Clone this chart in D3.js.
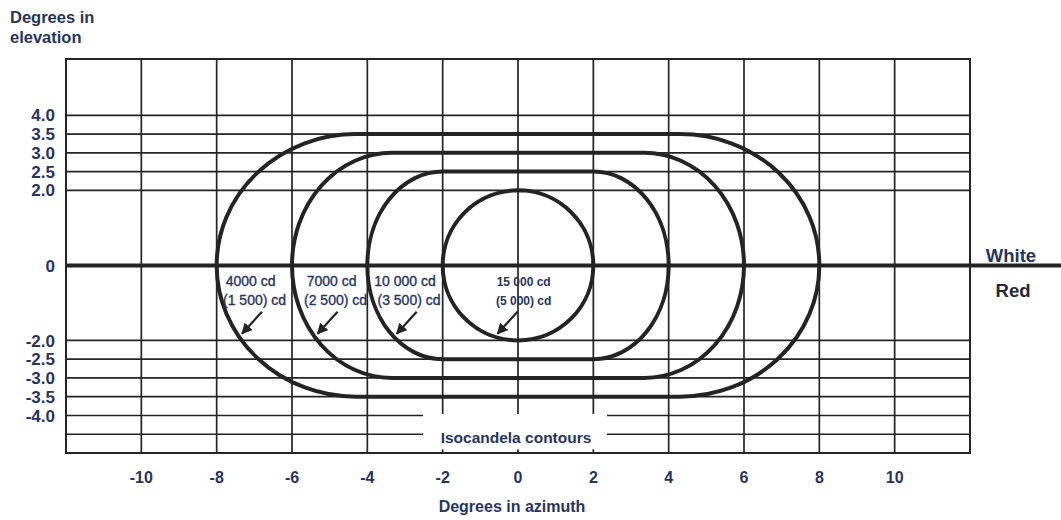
<!DOCTYPE html>
<html>
<head>
<meta charset="utf-8">
<script src="https://cdn.jsdelivr.net/npm/d3@7/dist/d3.min.js"></script>
<style>
  html, body { margin: 0; padding: 0; background: #fff; }
  svg { display: block; }
  text { font-family: "Liberation Sans", Arial, sans-serif; }
</style>
</head>
<body>
<svg id="chart" width="1061" height="520"></svg>
<script>
// Azimuth grid / tick values (degrees)
const azimuthTicks = [-10, -8, -6, -4, -2, 0, 2, 4, 6, 8, 10];
// Elevation tick labels (degrees)
const elevationTicks = [4.0, 3.5, 3.0, 2.5, 2.0, 0, -2.0, -2.5, -3.0, -3.5, -4.0];
// Extra horizontal rule below the last labelled elevation
const elevationExtraGrid = [-4.5];

// Isocandela contours, from innermost to outermost
const contourWhite = ["15 000 cd", "10 000 cd", "7000 cd", "4000 cd"];
const contourRed = ["(5 000) cd", "(3 500) cd", "(2 500) cd", "(1 500) cd"];
const contourAzimuth = [2, 4, 6, 8];          // half-extent in azimuth (deg)
const contourElevation = [2, 2.5, 3, 3.5];    // half-extent in elevation (deg)
const contourCap = [2, 2, 2.65, 3.7];         // width of the rounded ends (deg)

const svg = d3.select("#chart");
const W = 1061;

const x = d3.scaleLinear().domain([-12, 12]).range([66, 970]);
const y = d3.scaleLinear().domain([-5, 5.5]).range([453, 59]);

const ink = "#242424";
const navy = "#26355f";

// ---- grid ----
const grid = svg.append("g");
grid.selectAll("line.v").data(azimuthTicks).join("line")
  .attr("x1", d => x(d)).attr("x2", d => x(d))
  .attr("y1", y(5.5)).attr("y2", y(-5))
  .attr("stroke", ink).attr("stroke-width", 1.7);

grid.selectAll("line.h").data(elevationTicks.filter(d => d !== 0).concat(elevationExtraGrid)).join("line")
  .attr("x1", x(-12)).attr("x2", x(12))
  .attr("y1", d => y(d)).attr("y2", d => y(d))
  .attr("stroke", ink).attr("stroke-width", 1.7);

// frame
svg.append("rect")
  .attr("x", x(-12)).attr("y", y(5.5))
  .attr("width", x(12) - x(-12)).attr("height", y(-5) - y(5.5))
  .attr("fill", "none").attr("stroke", ink).attr("stroke-width", 2);

// white / red boundary (0 deg elevation), runs past the frame
svg.append("line")
  .attr("x1", x(-12)).attr("x2", W)
  .attr("y1", y(0)).attr("y2", y(0))
  .attr("stroke", ink).attr("stroke-width", 4);

// ---- y tick labels ----
svg.append("g").selectAll("text").data(elevationTicks).join("text")
  .attr("x", 55).attr("y", d => y(d))
  .attr("dy", "0.36em")
  .attr("text-anchor", "end")
  .attr("font-size", 17).attr("font-weight", "bold")
  .attr("fill", navy)
  .text(d => d === 0 ? "0" : d3.format(".1f")(d).replace("−", "-"));

// ---- x tick labels ----
svg.append("g").selectAll("text").data(azimuthTicks).join("text")
  .attr("x", d => x(d)).attr("y", 483)
  .attr("text-anchor", "middle")
  .attr("font-size", 16).attr("font-weight", "bold")
  .attr("fill", navy)
  .text(d => String(d));

// ---- axis titles ----
svg.append("text").attr("x", 10).attr("y", 23)
  .attr("font-size", 16.5).attr("font-weight", "bold").attr("fill", navy)
  .text("Degrees in");
svg.append("text").attr("x", 10).attr("y", 43)
  .attr("font-size", 16.5).attr("font-weight", "bold").attr("fill", navy)
  .text("elevation");
svg.append("text").attr("x", 512).attr("y", 512)
  .attr("text-anchor", "middle")
  .attr("font-size", 16).attr("font-weight", "bold").attr("fill", navy)
  .text("Degrees in azimuth");

svg.append("text").attr("x", 1011).attr("y", 262)
  .attr("text-anchor", "middle")
  .attr("font-size", 18.5).attr("font-weight", "bold").attr("fill", navy)
  .text("White");
svg.append("text").attr("x", 1013).attr("y", 297)
  .attr("text-anchor", "middle")
  .attr("font-size", 18.5).attr("font-weight", "bold").attr("fill", "#252a3a")
  .text("Red");

// ---- "Isocandela contours" caption on a white patch ----
svg.append("rect")
  .attr("x", 423).attr("y", y(-4.0) - 1.5)
  .attr("width", 184).attr("height", y(-4.9) - y(-4.0) + 1.5)
  .attr("fill", "#fff");
svg.append("text").attr("x", 516).attr("y", 443)
  .attr("text-anchor", "middle")
  .attr("font-size", 15.5).attr("font-weight", "bold").attr("fill", navy)
  .text("Isocandela contours");

// ---- contours: flat top/bottom with elliptical ends ----
const contours = contourAzimuth.map((az, i) => ({
  az, el: contourElevation[i], cap: contourCap[i],
  white: contourWhite[i], red: contourRed[i]
}));

function contourPath(d) {
  const c = d.az - d.cap;               // azimuth where the ends begin
  const rx = x(d.az) - x(c);
  const ry = y(0) - y(d.el);
  return [
    "M", x(-c), y(d.el),
    "L", x(c), y(d.el),
    "A", rx, ry, 0, 0, 1, x(c), y(-d.el),
    "L", x(-c), y(-d.el),
    "A", rx, ry, 0, 0, 1, x(-c), y(d.el),
    "Z"
  ].join(" ");
}

svg.append("g").selectAll("path").data(contours).join("path")
  .attr("d", contourPath)
  .attr("fill", "none")
  .attr("stroke", ink)
  .attr("stroke-width", 4);

// ---- contour labels and pointers ----
svg.append("defs").append("marker")
  .attr("id", "arrowhead")
  .attr("viewBox", "0 0 10 10")
  .attr("refX", 9).attr("refY", 5)
  .attr("markerWidth", 5).attr("markerHeight", 5)
  .attr("orient", "auto")
  .append("path").attr("d", "M0,0 L10,5 L0,10 Z").attr("fill", ink);

// label centre azimuth for each contour
const labelAt = [0.15, -3.0, -4.95, -7.1];
const pointAt = -1.9;   // elevation the pointers reach on each contour

const labels = svg.append("g");
contours.forEach((d, i) => {
  const cx = x(labelAt[i]);
  const small = i === 0;
  const fs = small ? 12 : 14;
  const fw = small ? "bold" : "normal";
  labels.append("text").attr("x", cx).attr("y", 286)
    .attr("text-anchor", "middle").attr("font-size", fs).attr("font-weight", fw)
    .attr("fill", navy).attr("stroke", small ? "none" : navy).attr("stroke-width", 0.35)
    .text(d.white);
  labels.append("text").attr("x", cx + (small ? 0 : 4)).attr("y", 305)
    .attr("text-anchor", "middle").attr("font-size", fs).attr("font-weight", fw)
    .attr("fill", navy).attr("stroke", small ? "none" : navy).attr("stroke-width", 0.35)
    .text(d.red);

  // point on the left side of the contour at the pointer elevation
  const c = d.az - d.cap;
  const t = Math.sqrt(Math.max(0, 1 - (pointAt / d.el) ** 2));
  const hx = x(-c - d.cap * t) + 3;
  const hy = y(pointAt) - 3;
  labels.append("line")
    .attr("x1", hx + 20).attr("y1", hy - 22)
    .attr("x2", hx).attr("y2", hy)
    .attr("stroke", ink).attr("stroke-width", 2.2)
    .attr("marker-end", "url(#arrowhead)");
});
</script>
</body>
</html>
